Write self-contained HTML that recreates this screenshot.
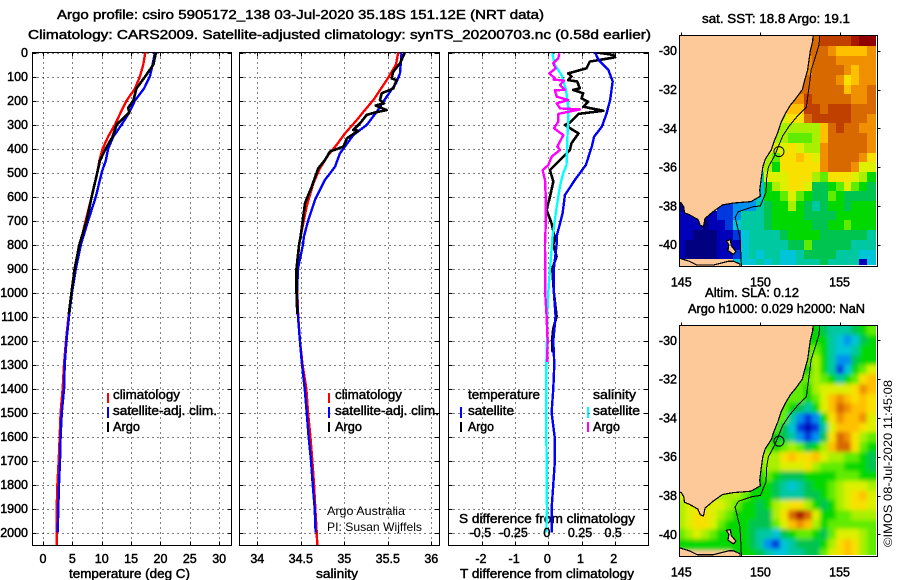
<!DOCTYPE html>
<html lang="en">
<head>
<meta charset="utf-8">
<title>Argo profile csiro 5905172_138</title>
<style>
html,body{margin:0;padding:0;background:#fff;}
svg{display:block;}
text{font-family:"Liberation Sans",sans-serif;font-size:12.5px;fill:#000;}
.m{stroke:#000;stroke-width:.45px;}
.thin{font-size:12px;stroke:none;}
</style>
</head>
<body>
<svg id="chart" xmlns="http://www.w3.org/2000/svg" width="900" height="580" viewBox="0 0 900 580">
  <defs>
    <clipPath id="clip-temp"><rect x="32.5" y="52.5" width="199" height="493"/></clipPath>
    <clipPath id="clip-sal"><rect x="239.5" y="52.5" width="200" height="493"/></clipPath>
    <clipPath id="clip-diff"><rect x="448.5" y="52.5" width="200" height="493"/></clipPath>
    <clipPath id="clip-map-sst"><rect x="679.5" y="35.5" width="198" height="231"/></clipPath>
    <clipPath id="clip-map-sla"><rect x="679.5" y="325.5" width="198" height="231"/></clipPath>
    <clipPath id="clip-data-sst"><rect x="679.5" y="35.5" width="196.5" height="229.5"/></clipPath>
    <clipPath id="clip-data-sla"><rect x="679.5" y="325.5" width="196.5" height="229.5"/></clipPath>
    <filter id="smooth" x="-5%" y="-5%" width="110%" height="110%"><feGaussianBlur stdDeviation="2.2"/></filter>
  </defs>

  <text class="m" x="57" y="19" textLength="487" lengthAdjust="spacingAndGlyphs">Argo profile: csiro 5905172_138 03-Jul-2020 35.18S 151.12E (NRT data)</text>
  <text class="m" x="28" y="39" textLength="623" lengthAdjust="spacingAndGlyphs">Climatology: CARS2009. Satellite-adjusted climatology: synTS_20200703.nc (0.58d earlier)</text>

  <text class="m" x="69" y="578" textLength="121" lengthAdjust="spacingAndGlyphs">temperature (deg C)</text>
  <text class="m" x="316" y="578" textLength="42" lengthAdjust="spacingAndGlyphs">salinity</text>
  <text class="m" x="460" y="578" textLength="174" lengthAdjust="spacingAndGlyphs">T difference from climatology</text>
  <text class="m" x="459" y="523" textLength="176" lengthAdjust="spacingAndGlyphs">S difference from climatology</text>

  <g>
    <text class="m" x="113" y="399" textLength="67" lengthAdjust="spacingAndGlyphs">climatology</text>
    <text class="m" x="113" y="415" textLength="104" lengthAdjust="spacingAndGlyphs">satellite-adj. clim.</text>
    <text class="m" x="113" y="431" textLength="27" lengthAdjust="spacingAndGlyphs">Argo</text>
    <rect x="107" y="393" width="2" height="10" fill="#f00"/>
    <rect x="107" y="407" width="2" height="11" fill="#00f"/>
    <rect x="107" y="422" width="2" height="10" fill="#000"/>
  </g>
  <g>
    <text class="m" x="335" y="399" textLength="67" lengthAdjust="spacingAndGlyphs">climatology</text>
    <text class="m" x="335" y="415" textLength="104" lengthAdjust="spacingAndGlyphs">satellite-adj. clim.</text>
    <text class="m" x="335" y="431" textLength="27" lengthAdjust="spacingAndGlyphs">Argo</text>
    <rect x="328" y="393" width="2" height="10" fill="#f00"/>
    <rect x="328" y="407" width="2" height="11" fill="#00f"/>
    <rect x="328" y="422" width="2" height="10" fill="#000"/>
  </g>
  <g>
    <text class="m" x="468" y="399" textLength="72" lengthAdjust="spacingAndGlyphs">temperature</text>
    <text class="m" x="468" y="415" textLength="46" lengthAdjust="spacingAndGlyphs">satellite</text>
    <text class="m" x="468" y="431" textLength="26" lengthAdjust="spacingAndGlyphs">Argo</text>
    <rect x="460" y="407" width="2" height="11" fill="#00f"/>
    <rect x="460" y="422" width="2" height="10" fill="#000"/>
    <text class="m" x="593" y="399" textLength="43" lengthAdjust="spacingAndGlyphs">salinity</text>
    <text class="m" x="593" y="415" textLength="47" lengthAdjust="spacingAndGlyphs">satellite</text>
    <text class="m" x="593" y="431" textLength="27" lengthAdjust="spacingAndGlyphs">Argo</text>
    <rect x="587" y="407" width="2" height="11" fill="#0ff"/>
    <rect x="587" y="422" width="2" height="10" fill="#f0f"/>
  </g>
  <text class="thin" x="327" y="515" textLength="78" lengthAdjust="spacingAndGlyphs">Argo Australia</text>
  <text class="thin" x="327" y="531" textLength="95" lengthAdjust="spacingAndGlyphs">PI: Susan Wijffels</text>

  <text class="m" x="702" y="23" textLength="148" lengthAdjust="spacingAndGlyphs">sat. SST: 18.8 Argo: 19.1</text>
  <text class="m" x="705" y="297" textLength="94" lengthAdjust="spacingAndGlyphs">Altim. SLA: 0.12</text>
  <text class="m" x="688" y="313" textLength="177" lengthAdjust="spacingAndGlyphs">Argo h1000: 0.029 h2000: NaN</text>
  <text class="thin" transform="translate(892,547) rotate(-90)" x="0" y="0" textLength="167" lengthAdjust="spacingAndGlyphs">©IMOS 08-Jul-2020 11:45:08</text>
</svg>

<script>
// ---------- tick values ----------
const depthTicks = [0,100,200,300,400,500,600,700,800,900,1000,1100,1200,1300,1400,1500,1600,1700,1800,1900,2000];
const tempTicks = [0,5,10,15,20,25,30];
const salTicks = [34,34.5,35,35.5,36];
const salTickLabels = ['34','34.5','35','35.5','36'];
const tDiffTicks = [-2,-1,0,1,2];
const sDiffTicks = [-0.5,-0.25,0,0.25,0.5];
const sDiffTickLabels = ['-0.5','-0.25','0','0.25','0.5'];
const lonTicks = [145,150,155];
const latTicks = [-30,-32,-34,-36,-38,-40];

// ---------- temperature profiles ----------
const tempClimDepths = [0,50,100,150,200,250,300,350,400,450,500,600,700,800,900,1000,1100,1200,1300,1400,1500,1600,1700,1800,1900,2000,2053];
const tempClimValues = [17.42,17.08,16.5,15.66,14.25,13.23,12.26,11.1,10.16,9.6,9.25,8.3,7.27,6.3,5.45,4.85,4.34,3.92,3.58,3.35,3.0,2.84,2.67,2.45,2.33,2.33,2.33];
const tempSatDepths = [0,50,100,150,200,250,300,350,400,450,500,600,700,800,900,1000,1100,1200,1300,1400,1500,1600,1700,1800,1900,2000];
const tempSatValues = [19.07,18.67,18.2,17.2,15.66,14.7,13.4,11.98,11.1,10.7,9.99,9.0,7.7,6.45,5.6,4.94,4.43,4.0,3.7,3.6,3.2,3.0,2.9,2.72,2.6,2.5];
const tempArgoDepths = [0,50,100,150,200,230,250,300,350,400,450,500,600,700,800,900,1000,1090];
const tempArgoValues = [19.24,18.8,17.4,15.9,15.4,14.5,14.7,12.55,11.86,10.7,9.7,9.25,8.3,7.44,6.2,5.4,4.85,4.4];

// ---------- salinity profiles ----------
const salClimDepths = [0,50,115,198,247,274,337,385,427,483,545,642,767,800,900,1000,1100,1200,1300,1400,1500,1600,1700,1800,1900,2000,2053];
const salClimValues = [35.62,35.594,35.487,35.334,35.219,35.161,35.008,34.912,34.816,34.72,34.644,34.567,34.498,34.48,34.46,34.46,34.47,34.49,34.52,34.563,34.583,34.61,34.632,34.652,34.667,34.683,34.69];
const salSatDepths = [0,87,128,184,247,302,344,420,476,531,614,698,767,800,900,1000,1100,1200,1300,1400,1500,1600,1700,1800,1900,2000];
const salSatValues = [35.659,35.64,35.594,35.487,35.372,35.257,35.104,34.95,34.893,34.778,34.663,34.586,34.536,34.525,34.468,34.456,34.468,34.49,34.514,34.545,34.568,34.59,34.617,34.637,34.66,34.67];
const salArgoDepths = [0,45,80,108,115,150,170,198,212,221,240,250,260,295,323,326,358,392,413,448,483,559,628,767,800,900,1000,1090];
const salArgoValues = [35.697,35.64,35.563,35.544,35.6,35.563,35.43,35.41,35.456,35.36,35.487,35.353,35.257,35.18,35.104,35.16,35.03,34.99,34.835,34.778,34.7,34.625,34.548,34.498,34.48,34.45,34.45,34.46];

// ---------- difference profiles ----------
const tDiffSatDepths = [0,30,73,121,198,253,309,351,392,469,531,594,670,767,800,900,1000,1100,1200,1300,1400,1500,1600,1700,1800,1900,2000];
const tDiffSatValues = [1.41,1.51,1.81,1.94,1.86,1.76,1.61,1.38,1.31,1.13,0.8,0.5,0.43,0.25,0.25,0.17,0.17,0.22,0.15,0.18,0.15,0.1,0.19,0.2,0.15,0.1,0.1];
const tDiffArgoDepths = [0,10,20,38,66,87,100,115,121,149,156,170,191,205,226,243,256,292,302,337,378,406,455,490,538,600,656,712,774,800,850,900,1000,1100,1150,1200,1250];
const tDiffArgoValues = [1.46,1.96,2.01,1.25,1.15,0.6,0.7,0.6,0.87,0.95,0.75,1.05,1.0,1.2,1.05,1.66,0.91,0.65,0.5,0.91,0.7,0.65,0.3,0.05,0.15,0.05,-0.05,0.1,0.2,0.15,0.25,0.12,0.17,0.25,0.15,0.11,0.13];
const sDiffSatDepths = [3,52,94,156,226,281,365,469,503,559,642,726,774,800,900,1000,1100,1200,1300,1400,1500,1600,1700,1800,1900,2000];
const sDiffSatValues = [0.03,0.05,0.1,0.133,0.15,0.15,0.143,0.137,0.112,0.087,0.063,0.043,0.03,0.028,0.013,0,-0.008,-0.01,-0.015,-0.015,-0.015,-0.015,-0.012,-0.012,-0.01,-0.015];
const sDiffArgoDepths = [3,24,45,66,87,108,113,117,135,156,157,184,198,212,233,237,256,288,316,344,392,406,434,469,490,531,615,700,774,800,900,1000,1100,1200,1290];
const sDiffArgoValues = [0.083,0.075,0.038,0.055,0.008,0.05,0.04,0.118,0.088,0.125,0.05,0.063,0.15,0.063,0.088,0.238,0.075,0.075,0.043,0.113,0.068,0.088,0.025,0,-0.043,-0.025,-0.018,-0.018,-0.023,-0.025,-0.023,-0.023,-0.013,-0.005,-0.008];

// ---------- map data: one row per 0.5 deg of latitude, one character per 0.5 deg of longitude ----------
const mapLons = [145,145.5,146,146.5,147,147.5,148,148.5,149,149.5,150,150.5,151,151.5,152,152.5,153,153.5,154,154.5,155,155.5,156,156.5,157];
const mapLats = [-29.5,-30,-30.5,-31,-31.5,-32,-32.5,-33,-33.5,-34,-34.5,-35,-35.5,-36,-36.5,-37,-37.5,-38,-38.5,-39,-39.5,-40,-40.5,-41];
const levelColors = {'0':'#000080','1':'#0000b8','2':'#0038e0','3':'#0090f0','4':'#00c4d8','5':'#00c8a0','6':'#00c450','7':'#00d800','8':'#60ec00','9':'#a8f000','a':'#dcf000','b':'#f8e000','c':'#ffc000','d':'#f09000','e':'#d86800','f':'#c04000','g':'#a81800','h':'#900000'};
const sstRows = [
"................eeffffghh",
"................eeedccccd",
"...............ddeeeddddd",
"...............ddeeeedcdd",
"...............eeeeedbcdd",
"...............eeeeeecdde",
"..............ddfeeeeedde",
".............cccffefffeee",
"............aabbefffffeed",
"............999999cefeedd",
"...........9998889ceeeeed",
"...........aaaba99deeeeed",
"..........998bbcbadeeeedb",
"..........997bbbbbdeeedaa",
".........55aaabbb98bbba97",
".........4479abba6678a876",
".........44778a8766876666",
"0....22333567797656776777",
"1111122355567777666677777",
"1110112455567777766778777",
"1100011245555677776666665",
"1000011145555566866666555",
"1000011245455445666655544",
".......444545445556555514"
];
const slaRows = [
"................776555678",
"................777543467",
"................887544577",
"...............8897533677",
"...............779752478a",
"...............88987578bc",
"..............8879aaaabdc",
".............88878acdcbcb",
"............887657acedccb",
"............8853237bdccda",
"...........88642125acccba",
"...........77653236bedb98",
"..........887898679ceeb87",
"..........999bcbbca998876",
".........8899aaab98887776",
".........7787666777788877",
".........777654567789aaa9",
"a....9998777655566789abca",
"9aaaaa9877679abb97679abba",
"9abba98777669begea7788999",
"9abba87776668acdc97888888",
"89a98777765546788768aaa98",
"77777777765324566679bcb98",
".......777654455668abcb98"
];

// ---------- geography (degrees) ----------
const mainlandLons = [144.5,153.35,153.3,153.15,153.05,152.98,152.8,152.65,152.2,151.9,151.6,151.3,151.1,150.85,150.7,150.3,150.15,150.05,149.95,150.0,149.4,148.3,147.6,147.0,146.5,146.4,146.2,146.05,145.5,145.2,145.15,145.0,144.5];
const mainlandLats = [-28.8,-28.8,-29.5,-30,-30.6,-31,-31.5,-32,-32.5,-32.8,-33.2,-33.7,-34.2,-34.7,-35.1,-35.6,-36,-36.6,-37.2,-37.5,-37.78,-37.85,-37.95,-38.3,-38.65,-39.05,-39.0,-38.7,-38.45,-38.35,-38.05,-37.85,-37.75];
const tasmaniaLons = [144.5,145.5,146,147,148,148.3,148.7,148.7,144.5];
const tasmaniaLats = [-40.6,-40.85,-41.05,-41.05,-40.85,-40.85,-41,-41.6,-41.6];
const flindersLons = [147.85,148.1,148.15,148.45,148.3,147.95,148.0];
const flindersLats = [-39.8,-39.75,-40.05,-40.35,-40.5,-40.3,-40.0];
const isobathLons = [153.76,153.7,153.4,153.2,153.1,153.0,152.9,152.3,151.8,151.4,151.1,150.9,150.5,150.4,150.35,150.2,150.0,149.5,148.6,148.4,148.55,148.7,148.75,148.8];
const isobathLats = [-29.1,-29.7,-30.5,-31,-31.7,-32.3,-32.9,-33.4,-33.9,-34.4,-35,-35.4,-36,-36.5,-37.3,-37.6,-38,-38.05,-38.3,-38.6,-39.1,-39.6,-40.3,-41.2];
const argoLon = 151.17;
const argoLat = -35.2;

// ---------- axis functions ----------
const svg = document.getElementById('chart');
const NS = 'http://www.w3.org/2000/svg';
const yDepth = d => 52.5 + 0.24 * d;
const xTemp = v => 43 + 5.873 * v;
const xSal = v => 257.3 + 87 * (v - 34);
const xTDiff = v => 548.3 + 33.2 * v;
const xSDiff = v => 548.3 + 132.8 * v;
const xLon = v => 681.3 + 15.83 * (v - 145);
const ySstLat = v => 50.7 + 19.4 * (-30 - v);
const ySlaLat = v => 340.3 + 19.4 * (-30 - v);

function make(parent, tag, name) {
  const el = document.createElementNS(NS, tag);
  
  
  parent.appendChild(el);
  return el;
}
function seg(parent, x1, y1, x2, y2, name, dash) {
  const el = make(parent, 'line', name);
  el.setAttribute('x1', x1);
  el.setAttribute('y1', y1);
  el.setAttribute('x2', x2);
  el.setAttribute('y2', y2);
  el.setAttribute('stroke', '#000');
  el.setAttribute('stroke-width', '1');
  el.setAttribute('shape-rendering', 'crispEdges');
  if (dash) el.setAttribute('stroke-dasharray', dash);
  return el;
}
function label(parent, x, y, str, anchor, name) {
  const el = make(parent, 'text', name);
  el.setAttribute('x', x);
  el.setAttribute('y', y);
  el.setAttribute('text-anchor', anchor);
  el.setAttribute('class', 'm');
  el.textContent = str;
  return el;
}
function series(parent, xs, ys, xFn, color, width, name, clip) {
  const el = make(parent, 'polyline', name);
  el.setAttribute('points', xs.map((v, i) => xFn(v).toFixed(1) + ',' + yDepth(ys[i]).toFixed(1)).join(' '));
  el.setAttribute('fill', 'none');
  el.setAttribute('stroke', color);
  el.setAttribute('stroke-width', width);
  el.setAttribute('stroke-linejoin', 'round');
  el.setAttribute('shape-rendering', 'crispEdges');
  el.setAttribute('clip-path', 'url(#' + clip + ')');
  return el;
}
function panel(name, left, right, ticks, xFn) {
  const top = 52.5, bottom = 545.5;
  const g = make(svg, 'g', name);
  ticks.forEach(t => {
    const x = Math.round(xFn(t)) + 0.5;
    seg(g, x, top, x, bottom, 'vertical-gridline', '1 4');
    seg(g, x, top, x, top + 4, 'x-tick-top');
    seg(g, x, bottom - 4, x, bottom, 'x-tick-bottom');
  });
  depthTicks.forEach(d => {
    const y = Math.round(yDepth(d)) + 0.5;
    seg(g, left, y, right, y, 'horizontal-gridline', '1 4');
    seg(g, left, y, left + 4, y, 'depth-tick-left');
    seg(g, right - 4, y, right, y, 'depth-tick-right');
  });
  const box = make(g, 'rect', 'plot-frame');
  box.setAttribute('x', left);
  box.setAttribute('y', top);
  box.setAttribute('width', right - left);
  box.setAttribute('height', bottom - top);
  box.setAttribute('fill', 'none');
  box.setAttribute('stroke', '#000');
  box.setAttribute('stroke-width', '1');
  box.setAttribute('shape-rendering', 'crispEdges');
  return g;
}

// ---------- profile panels ----------
const tempPanel = panel('temperature-panel', 32.5, 231.5, tempTicks, xTemp);
const salPanel = panel('salinity-panel', 239.5, 439.5, salTicks, xSal);
const diffPanel = panel('difference-panel', 448.5, 648.5, tDiffTicks, xTDiff);

series(tempPanel, tempClimValues, tempClimDepths, xTemp, '#f00', 2.4, 'temperature-climatology-line', 'clip-temp');
series(tempPanel, tempSatValues, tempSatDepths, xTemp, '#00f', 2.4, 'temperature-satellite-line', 'clip-temp');
series(tempPanel, tempArgoValues, tempArgoDepths, xTemp, '#000', 2.6, 'temperature-argo-line', 'clip-temp');
series(salPanel, salClimValues, salClimDepths, xSal, '#f00', 2.4, 'salinity-climatology-line', 'clip-sal');
series(salPanel, salSatValues, salSatDepths, xSal, '#00f', 2.4, 'salinity-satellite-line', 'clip-sal');
series(salPanel, salArgoValues, salArgoDepths, xSal, '#000', 2.6, 'salinity-argo-line', 'clip-sal');
series(diffPanel, tDiffArgoValues, tDiffArgoDepths, xTDiff, '#000', 2.6, 't-difference-argo-line', 'clip-diff');
series(diffPanel, tDiffSatValues, tDiffSatDepths, xTDiff, '#00f', 2.4, 't-difference-satellite-line', 'clip-diff');
series(diffPanel, sDiffSatValues, sDiffSatDepths, xSDiff, '#0ff', 2.4, 's-difference-satellite-line', 'clip-diff');
series(diffPanel, sDiffArgoValues, sDiffArgoDepths, xSDiff, '#f0f', 2.4, 's-difference-argo-line', 'clip-diff');

depthTicks.forEach(d => label(tempPanel, 28, yDepth(d) + 4.5, String(d), 'end', 'depth-tick-label'));
tempTicks.forEach(t => label(tempPanel, xTemp(t), 563, String(t), 'middle', 'temperature-tick-label'));
salTicks.forEach((t, i) => label(salPanel, xSal(t), 563, salTickLabels[i], 'middle', 'salinity-tick-label'));
tDiffTicks.forEach(t => label(diffPanel, xTDiff(t) - 1, 563, String(t), 'middle', 't-difference-tick-label'));
sDiffTicks.forEach((t, i) => label(diffPanel, xSDiff(t) - 1.5, 537, sDiffTickLabels[i], 'middle', 's-difference-tick-label'));

// ---------- maps ----------
function drawMap(name, rows, yLat, clipAll, clipData, left, top, smooth) {
  const g = make(svg, 'g', name);
  const width = 198, height = 231;
  const field = make(g, 'g', 'map-field');
  field.setAttribute('clip-path', 'url(#' + clipData + ')');
  const base = make(field, 'rect', 'map-background');
  base.setAttribute('x', left);
  base.setAttribute('y', top);
  base.setAttribute('width', width);
  base.setAttribute('height', height);
  base.setAttribute('fill', '#fdc998');
  const cells = make(field, 'g', 'map-cells');
  if (smooth) cells.setAttribute('filter', 'url(#smooth)');
  rows.forEach((row, r) => {
    mapLons.forEach((lon, c) => {
      const color = levelColors[row.charAt(c)];
      if (!color) return;
      const x0 = Math.round(xLon(lon - (c === 0 ? 1 : 0.25)));
      const x1 = Math.round(xLon(lon + (c === mapLons.length - 1 ? 1 : 0.25)));
      const y0 = Math.round(yLat(mapLats[r] + (r === 0 ? 1 : 0.25)));
      const y1 = Math.round(yLat(mapLats[r] - (r === mapLats.length - 1 ? 1 : 0.25)));
      const cell = make(cells, 'rect', 'map-cell');
      cell.setAttribute('x', x0);
      cell.setAttribute('y', y0);
      cell.setAttribute('width', x1 - x0);
      cell.setAttribute('height', y1 - y0);
      cell.setAttribute('fill', color);
      cell.setAttribute('shape-rendering', 'crispEdges');
    });
  });
  const geo = make(g, 'g', 'map-geography');
  geo.setAttribute('clip-path', 'url(#' + clipAll + ')');
  function land(lons, lats, landName) {
    const p = make(geo, 'polygon', landName);
    p.setAttribute('points', lons.map((v, i) => xLon(v).toFixed(1) + ',' + yLat(lats[i]).toFixed(1)).join(' '));
    p.setAttribute('fill', '#fdc998');
    p.setAttribute('stroke', '#000');
    p.setAttribute('stroke-width', '1.2');
    p.setAttribute('shape-rendering', 'crispEdges');
  }
  land(mainlandLons, mainlandLats, 'mainland-australia');
  land(tasmaniaLons, tasmaniaLats, 'tasmania');
  land(flindersLons, flindersLats, 'flinders-island');
  const iso = make(geo, 'polyline', 'shelf-isobath');
  iso.setAttribute('points', isobathLons.map((v, i) => xLon(v).toFixed(1) + ',' + yLat(isobathLats[i]).toFixed(1)).join(' '));
  iso.setAttribute('fill', 'none');
  iso.setAttribute('stroke', '#000');
  iso.setAttribute('stroke-width', '1');
  iso.setAttribute('shape-rendering', 'crispEdges');
  const marker = make(geo, 'circle', 'argo-position-marker');
  marker.setAttribute('cx', xLon(argoLon));
  marker.setAttribute('cy', yLat(argoLat));
  marker.setAttribute('r', '5');
  marker.setAttribute('fill', 'none');
  marker.setAttribute('stroke', '#000');
  marker.setAttribute('stroke-width', '1');
  const box = make(g, 'rect', 'map-frame');
  box.setAttribute('x', left);
  box.setAttribute('y', top);
  box.setAttribute('width', width);
  box.setAttribute('height', height);
  box.setAttribute('fill', 'none');
  box.setAttribute('stroke', '#000');
  box.setAttribute('stroke-width', '1');
  box.setAttribute('shape-rendering', 'crispEdges');
  lonTicks.forEach(t => {
    const x = Math.round(xLon(t)) + 0.5;
    seg(g, x, top - 3, x, top, 'longitude-tick');
    label(g, xLon(t), top + height + 20, String(t), 'middle', 'longitude-tick-label');
  });
  latTicks.forEach(t => {
    const y = Math.round(yLat(t)) + 0.5;
    seg(g, left + width, y, left + width + 3, y, 'latitude-tick');
    label(g, 677, yLat(t) + 4.5, String(t), 'end', 'latitude-tick-label');
  });
}
drawMap('sst-map', sstRows, ySstLat, 'clip-map-sst', 'clip-data-sst', 679.5, 35.5, false);
drawMap('sea-level-anomaly-map', slaRows, ySlaLat, 'clip-map-sla', 'clip-data-sla', 679.5, 325.5, true);
</script>
</body>
</html>
